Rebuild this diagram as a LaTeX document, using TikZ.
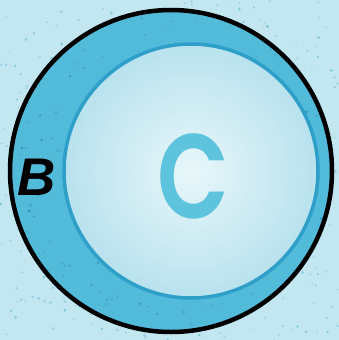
\documentclass[tikz,border=0pt]{standalone}
\usepackage{fontspec}
\newfontfamily\cfont{Poppins SemiBold}
\newfontfamily\bfont{Liberation Sans Bold Italic}
\definecolor{bgblue}{HTML}{C2E7F0}
\definecolor{speck}{HTML}{6DBCD6}
\definecolor{ringblue}{HTML}{52BBDA}
\definecolor{ringdark}{HTML}{2E9FC8}
\definecolor{ringspeck}{HTML}{2F8FB3}
\definecolor{innerc}{HTML}{E8F7FA}
\definecolor{innero}{HTML}{B8E2EE}
\definecolor{letterc}{HTML}{5EC3DC}
\tikzset{
  outerring/.style={fill=ringblue, draw=black, line width=4.5pt},
  innerdisk/.style={draw=ringdark, line width=3.5pt, inner color=innerc, outer color=innero},
  bigletter/.style={text=letterc, font=\cfont\fontsize{120}{120}\selectfont, inner sep=0pt, xscale=0.78},
  ringletter/.style={text=black, font=\bfont\fontsize{53}{53}\selectfont, inner sep=0pt}
}
\begin{document}
\begin{tikzpicture}[x=1pt,y=-1pt]
\useasboundingbox (0,0) rectangle (339,340);
\fill[bgblue] (0,0) rectangle (339,340);
\pgfmathsetseed{7}
\foreach \i in {1,...,500}{
  \pgfmathsetmacro{\px}{rnd*339}
  \pgfmathsetmacro{\py}{rnd*340}
  \pgfmathsetmacro{\pr}{0.6+rnd*1.1}
  \pgfmathsetmacro{\po}{0.3+rnd*0.5}
  \fill[speck, opacity=\po] (\px,\py) circle (\pr);
}
\node[circle, outerring, minimum size=322pt, inner sep=0pt] (outer) at (171,171) {};
\pgfmathsetseed{3}
\begin{scope}
\clip (171,171) circle (159);
\foreach \i in {1,...,260}{
  \pgfmathsetmacro{\px}{12+rnd*318}
  \pgfmathsetmacro{\py}{12+rnd*318}
  \pgfmathsetmacro{\pr}{0.6+rnd*1.0}
  \pgfmathsetmacro{\po}{0.3+rnd*0.5}
  \fill[ringspeck, opacity=\po] (\px,\py) circle (\pr);
}
\end{scope}
\node[circle, innerdisk, minimum size=254pt, inner sep=0pt] (inner) at (191,171) {};
\node[bigletter] (c) at (193,176) {C};
\node[ringletter] (b) at (37,177) {B};
\end{tikzpicture}
\end{document}
